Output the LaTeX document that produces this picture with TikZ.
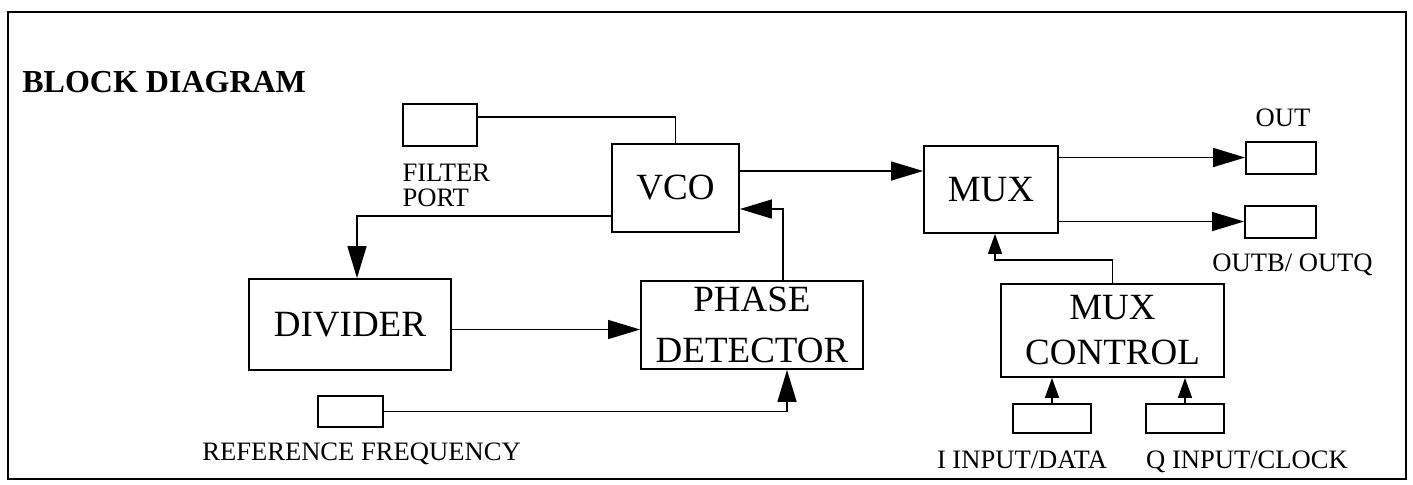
\documentclass[tikz,border=0pt]{standalone}
\usepackage{fontspec}
\setmainfont{Liberation Serif}
\usepackage{tikz}
\usetikzlibrary{
  arrows.meta,  % Triangle arrow tips
  positioning   % labels placed relative to the ports
}

\newcommand{\blkfont}{\fontsize{18.5}{25.5}\selectfont}
\newcommand{\lblfont}{\fontsize{13.3}{12.5}\selectfont}

\tikzset{
  blk/.style={draw, line width=0.9pt, inner sep=0pt, align=center, font=\blkfont},
  port/.style={draw, line width=0.9pt, inner sep=0pt},
  lbl/.style={inner sep=0pt, font=\lblfont},
  arr/.style={line width=0.7pt, -{Triangle[length=16pt, width=9.5pt]}},
  sarr/.style={line width=0.7pt, -{Triangle[length=10pt, width=7pt]}}
}

\begin{document}
\begin{tikzpicture}[x=0.5pt, y=-0.5pt]
    \useasboundingbox (0,0) rectangle (1413,484);
    % outer frame and title
    \draw[line width=0.75pt] (8,12) rectangle (1406,479);
    \node[anchor=base west, inner sep=0pt, font=\fontsize{16}{18}\selectfont\bfseries] (title) at (22,92) {BLOCK DIAGRAM};

    % --- loop: VCO, divider, phase detector ---
    \node[port, minimum width=37pt, minimum height=21pt] (filt) at (440,125) {};
    \node[lbl, align=left, anchor=north west] (filtlbl) at ([yshift=-8.5pt]filt.south west) {FILTER\\PORT};
    \node[blk, minimum width=63.5pt, minimum height=44pt] (vco) at (675.5,188) {VCO};
    \node[blk, minimum width=101pt, minimum height=45.5pt] (div) at (350,324.5) {DIVIDER};
    \node[blk, minimum width=111pt, minimum height=44pt] (pd) at (752,325) {PHASE\\DETECTOR};
    \node[port, minimum width=32.5pt, minimum height=15.5pt] (ref) at (350.5,411.5) {};
    \node[lbl, below=7.5pt of ref, xshift=5.5pt] (reflbl) {REFERENCE FREQUENCY};

    % --- mux and its control ---
    \node[blk, minimum width=67pt, minimum height=43.5pt] (mux) at (991,189.5) {MUX};
    \node[port, minimum width=35pt, minimum height=16pt] (out) at (1281,158) {};
    \node[lbl, above=7pt of out, xshift=1pt] (outlbl) {OUT};
    \node[port, minimum width=35.5pt, minimum height=16pt] (outb) at (1280.5,222) {};
    \node[lbl, below=7.5pt of outb, xshift=6pt] (outblbl) {OUTB/ OUTQ};
    \node[blk, font=\fontsize{18.5}{22.5}\selectfont, minimum width=111.5pt, minimum height=46.5pt] (muxc) at (1112.5,330.5) {MUX\\CONTROL};
    \node[port, minimum width=39pt, minimum height=14.5pt] (iin) at (1052,418.5) {};
    \node[port, minimum width=39pt, minimum height=14.5pt] (qin) at (1185,418.5) {};
    \node[lbl, below=8.5pt of iin, xshift=-15pt] (ilbl) {I INPUT/DATA};
    \node[lbl, below=8.5pt of qin, xshift=31pt] (qlbl) {Q INPUT/CLOCK};

    % --- connections ---
    \draw[line width=0.7pt] ([yshift=4pt]filt.east) -| (vco.north);
    \draw[arr] ([yshift=-14pt]vco.west) -| ([xshift=3.5pt]div.north);
    \draw[arr] ([yshift=8.5pt]vco.east) coordinate (vm) -- (vm -| mux.west);
    \draw[arr] ([xshift=15.5pt]pd.north) |- ([yshift=-10.5pt]vco.east);
    \draw[arr] ([yshift=-2.5pt]div.east) coordinate (dp) -- (dp -| pd.west);
    \draw[arr] (ref.east) -| ([xshift=17.5pt]pd.south);
    \draw[arr] ([yshift=16pt]mux.east) coordinate (mo) -- (mo -| out.west);
    \draw[arr] ([yshift=-16pt]mux.east) coordinate (mb) -- (mb -| outb.west);
    \draw[sarr] (muxc.north) -- ++(0,-23) -| ([xshift=2pt]mux.south);
    \foreach \p in {iin,qin}{
      \draw[sarr] (\p.north) -- (\p.north |- muxc.south);
    }
\end{tikzpicture}
\end{document}
